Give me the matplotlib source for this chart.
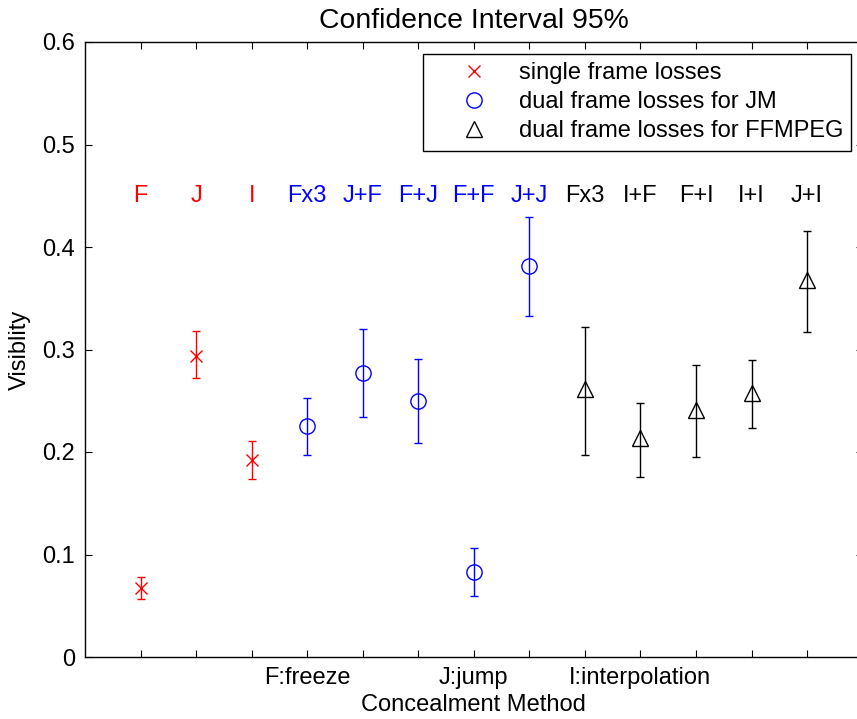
import numpy as np
import matplotlib
matplotlib.use("Agg")
import matplotlib.pyplot as plt

# values
single_x = [1, 2, 3]
single_y = [0.067, 0.294, 0.192]
single_lo = [0.057, 0.272, 0.174]
single_hi = [0.078, 0.318, 0.211]

jm_x = [4, 5, 6, 7, 8]
jm_y = [0.225, 0.277, 0.250, 0.083, 0.381]
jm_lo = [0.197, 0.234, 0.209, 0.060, 0.333]
jm_hi = [0.253, 0.320, 0.291, 0.106, 0.429]

ff_x = [9, 10, 11, 12, 13]
ff_y = [0.261, 0.214, 0.241, 0.258, 0.368]
ff_lo = [0.197, 0.176, 0.195, 0.223, 0.317]
ff_hi = [0.322, 0.248, 0.285, 0.290, 0.416]

top_labels = ["F", "J", "I", "Fx3", "J+F", "F+J", "F+F", "J+J",
              "Fx3", "I+F", "F+I", "I+I", "J+I"]
top_colors = ["red"] * 3 + ["blue"] * 5 + ["black"] * 5
label_y = 0.45

tick_pos = list(range(1, 14))
tick_names = ["", "", "", "F:freeze", "", "", "J:jump", "", "",
              "I:interpolation", "", "", ""]

plt.rcParams["font.family"] = ["Liberation Sans", "DejaVu Sans"]
plt.rcParams["font.size"] = 17

W, H = 857, 719
fig = plt.figure(figsize=(W / 100, H / 100), dpi=100)
ax = fig.add_axes([85 / W, (H - 657) / H, (862.6 - 85) / W, 615 / H])

groups = [
    (single_x, single_y, single_lo, single_hi, "red", "x", 8, "single frame losses"),
    (jm_x, jm_y, jm_lo, jm_hi, "blue", "o", 11, "dual frame losses for JM"),
    (ff_x, ff_y, ff_lo, ff_hi, "black", "^", 12, "dual frame losses for FFMPEG"),
]
for xs, ys, lo, hi, col, mk, ms, lab in groups:
    ys = np.array(ys)
    err = [ys - np.array(lo), np.array(hi) - ys]
    ax.errorbar(xs, ys, yerr=err, fmt="none", ecolor=col, elinewidth=1.0,
                capsize=3, capthick=1.0)
    ax.plot(xs, ys, linestyle="none", marker=mk, markersize=ms,
            markerfacecolor="none", markeredgecolor=col, markeredgewidth=1.0,
            label=lab)

for i, (t, c) in enumerate(zip(top_labels, top_colors)):
    ax.text(i + 1, label_y, t, color=c, ha="center", va="center")

ax.set_xlim(0, 14)
ax.set_ylim(0, 0.6)
ax.set_xticks(tick_pos)
ax.set_xticklabels(tick_names)
ax.set_yticks([0, 0.1, 0.2, 0.3, 0.4, 0.5, 0.6])
ax.set_yticklabels(["0", "0.1", "0.2", "0.3", "0.4", "0.5", "0.6"])
ax.tick_params(direction="in", length=5, width=0.8, top=True, right=True, pad=7)
for s in ax.spines.values():
    s.set_linewidth(1.0)

ax.set_title("Confidence Interval 95%", pad=10)
ax.set_xlabel("Concealment Method", labelpad=4)
ax.set_ylabel("Visiblity", labelpad=8)

leg = ax.legend(loc="upper left", bbox_to_anchor=(423 / W, 1 - 54 / H),
                bbox_transform=fig.transFigure, borderaxespad=0,
                fancybox=False, framealpha=1, edgecolor="black",
                handlelength=3.6, handletextpad=0.1, labelspacing=0.3,
                borderpad=0.35)
leg.get_frame().set_linewidth(1.0)

fig.savefig("out.png", dpi=100)
